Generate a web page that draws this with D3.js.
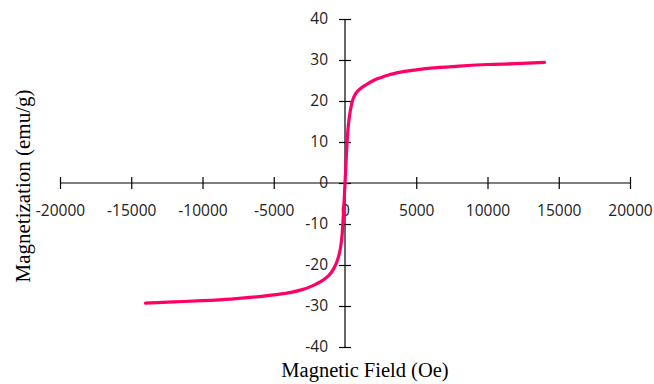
<!DOCTYPE html>
<html>
<head>
<meta charset="utf-8">
<script src="https://cdn.jsdelivr.net/npm/d3@7"></script>
<style>
  body { margin: 0; background: #fff; }
  svg { display: block; }
</style>
</head>
<body>
<div id="chart"></div>
<script>
// field (Oe) and magnetization (emu/g)
var field = [-14000, -12000, -10000, -8000, -6000, -5000, -4000, -3000, -2500, -2000, -1500, -1000, -750, -500, -300, -200, -100, 0,
             100, 200, 300, 500, 750, 1000, 1500, 2000, 2500, 3000, 4000, 5000, 6000, 8000, 10000, 12000, 14000];
var magnetization = [-29.3, -29.0, -28.7, -28.3, -27.7, -27.3, -26.8, -26.0, -25.4, -24.6, -23.6, -22.0, -20.6, -18.5, -15.5, -12.5, -7, 0,
                     7, 12.8, 16, 19.8, 21.8, 22.8, 24.0, 25.0, 25.7, 26.3, 27.1, 27.6, 28.0, 28.5, 28.9, 29.1, 29.4];
var xTicks = [-20000, -15000, -10000, -5000, 0, 5000, 10000, 15000, 20000];
var yTicks = [-40, -30, -20, -10, 0, 10, 20, 30, 40];

var width = 654, height = 384;

var svg = d3.select("#chart")
  .append("svg")
    .attr("width", width)
    .attr("height", height);

var x = d3.scaleLinear().domain([-20000, 20000]).range([60, 630]);
var y = d3.scaleLinear().domain([-40, 40]).range([347, 19]);

var tickFont = "'Open Sans', sans-serif";
var plain = function(d) { return String(d); };  // keep the plain hyphen minus

// x axis through y = 0
var xAxis = svg.append("g")
    .attr("transform", "translate(0," + y(0) + ")")
    .call(d3.axisBottom(x).tickValues(xTicks).tickSize(6).tickFormat(plain));
xAxis.select(".domain").attr("d", "M" + x(-20000) + ",0H" + x(20000)).attr("stroke", "#000").attr("stroke-width", 1.2);
xAxis.selectAll(".tick line").attr("y1", -6).attr("y2", 6).attr("stroke", "#000").attr("stroke-width", 1.2);
xAxis.selectAll(".tick text")
    .attr("y", 0).attr("dy", 0)
    .attr("transform", "translate(0,33)")
    .style("font-family", tickFont).style("font-size", "15.5px").attr("fill", "#222");

// y axis through x = 0
var yAxis = svg.append("g")
    .attr("transform", "translate(" + x(0) + ",0)")
    .call(d3.axisLeft(y).tickValues(yTicks).tickSize(6).tickFormat(plain));
yAxis.select(".domain").attr("d", "M0," + y(40) + "V" + y(-40)).attr("stroke", "#000").attr("stroke-width", 1.2);
yAxis.selectAll(".tick line").attr("x1", -6).attr("x2", 6).attr("stroke", "#000").attr("stroke-width", 1.2);
yAxis.selectAll(".tick text")
    .attr("x", -17)
    .style("font-family", tickFont).style("font-size", "15.5px").attr("fill", "#222");

// the magnetization curve
var points = field.map(function(f, i) { return [f, magnetization[i]]; });
var line = d3.line()
    .x(function(d) { return x(d[0]); })
    .y(function(d) { return y(d[1]); })
    .curve(d3.curveMonotoneX);
svg.append("path")
    .datum(points)
    .attr("d", line)
    .attr("fill", "none")
    .attr("stroke", "#FF0066")
    .attr("stroke-width", 3.2)
    .attr("stroke-linecap", "round")
    .attr("stroke-linejoin", "round");

// axis titles
svg.append("text")
    .attr("x", 365).attr("y", 377)
    .attr("text-anchor", "middle")
    .style("font-family", "'Liberation Serif', 'Times New Roman', serif")
    .style("font-size", "20.5px")
    .text("Magnetic Field (Oe)");

svg.append("text")
    .attr("transform", "translate(30,186) rotate(-90)")
    .attr("text-anchor", "middle")
    .style("font-family", "'Liberation Serif', 'Times New Roman', serif")
    .style("font-size", "21px")
    .text("Magnetization (emu/g)");
</script>
</body>
</html>
